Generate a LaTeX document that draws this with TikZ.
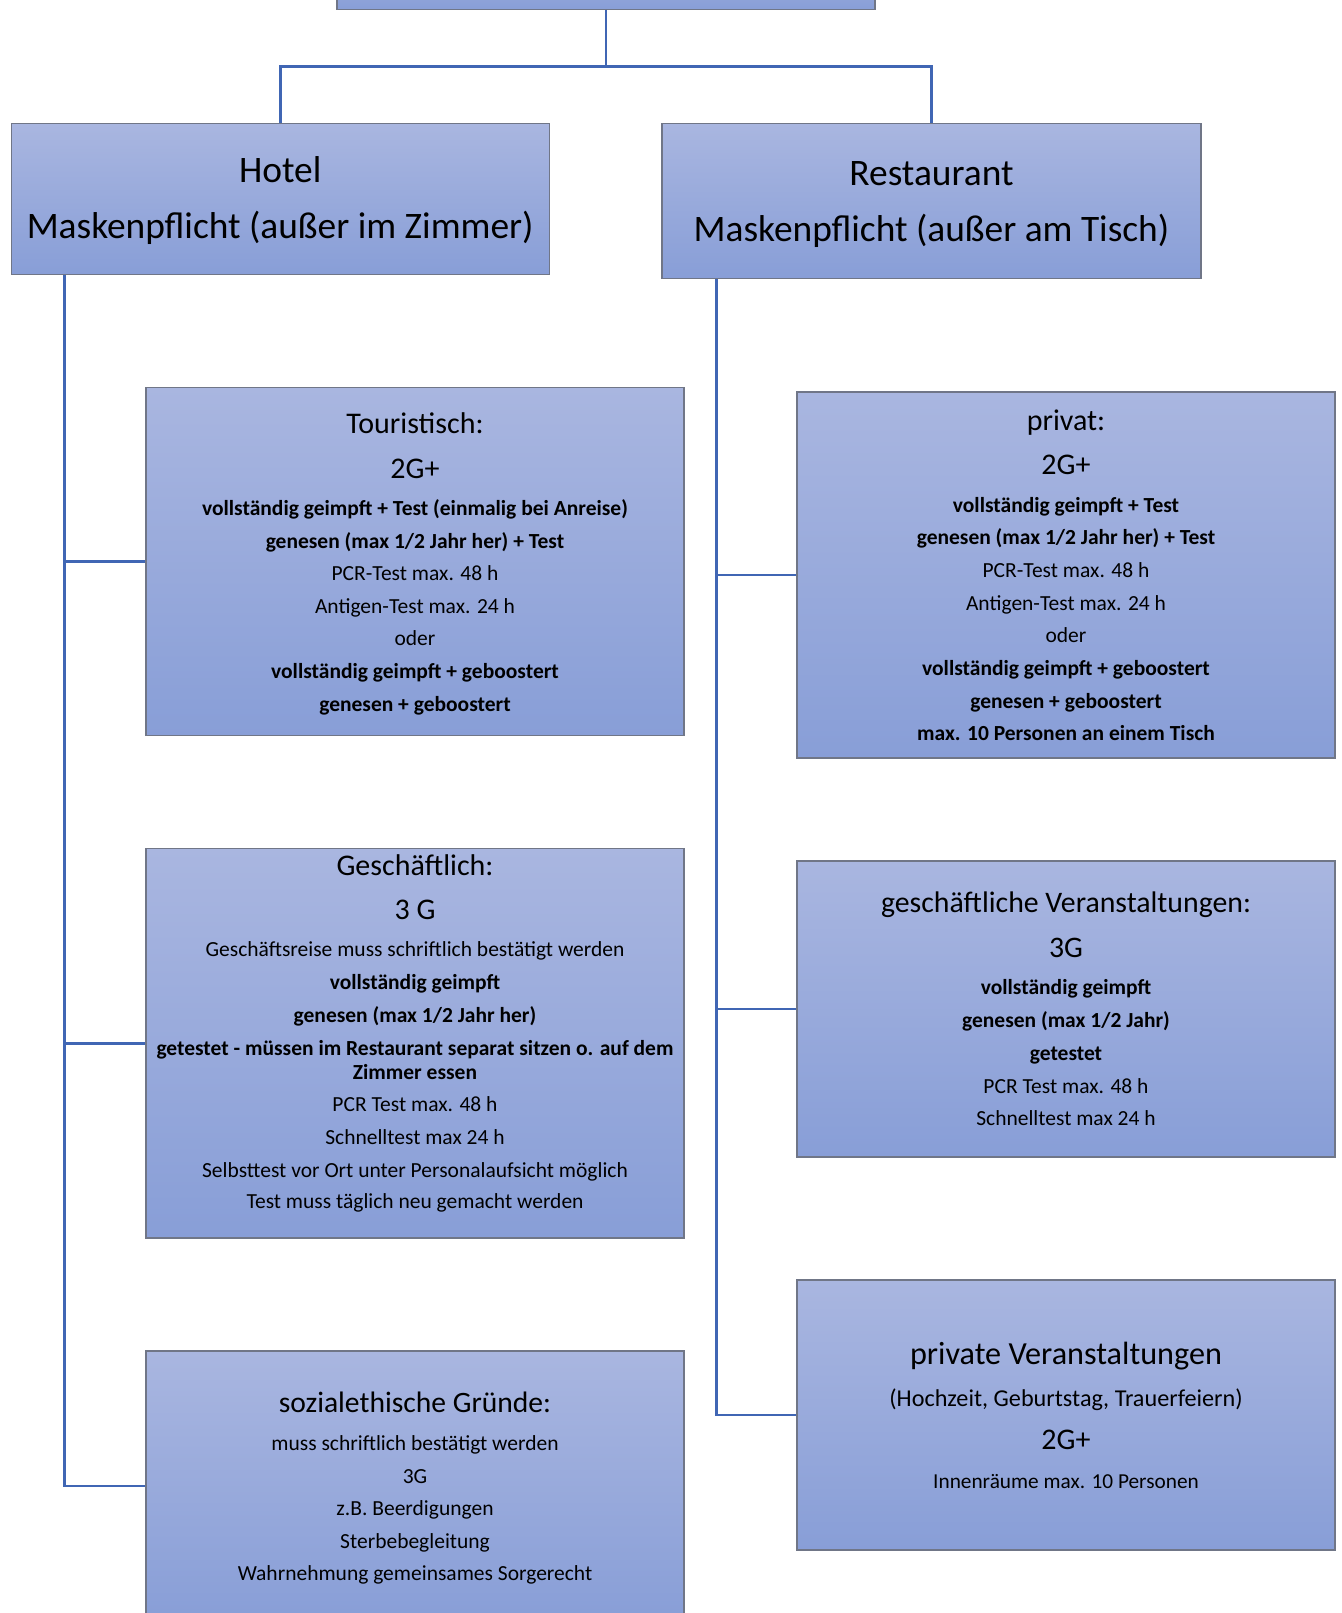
\documentclass[tikz,border=0pt]{standalone}
\usepackage{fontspec}
\setmainfont{Carlito}
\usetikzlibrary{calc}
\definecolor{boxtop}{RGB}{169,182,224}
\definecolor{boxbot}{RGB}{136,158,215}
\definecolor{boxedge}{RGB}{112,118,135}
\definecolor{linkcol}{RGB}{64,102,180}
\tikzset{
  boxshape/.style={rectangle, draw=boxedge, line width=1.4pt, top color=boxtop, bottom color=boxbot, inner sep=0pt},
  linkline/.style={draw=linkcol, line width=2.8pt},
  linetxt/.style={anchor=base, inner sep=0pt, text=black}
}
% name, x, y(center), size, text
\newcommand\mkline[5]{\node[linetxt, font=\fontsize{#4}{#4}\selectfont] (#1) at (#2,{#3+0.36*#4}) {#5};}
\begin{document}
\begin{tikzpicture}[x=1pt,y=-1pt]
\useasboundingbox (0,0) rectangle (1341,1613);
% boxes
\node[boxshape, minimum width=538pt, minimum height=60pt] (top) at (606,-20.7) {};
\node[boxshape, minimum width=538pt, minimum height=151pt] (hotel) at (280.2,199) {};
\node[boxshape, minimum width=539pt, minimum height=155pt] (rest) at (931.5,201) {};
\node[boxshape, minimum width=538pt, minimum height=347.6pt] (tour) at (415,561.5) {};
\node[boxshape, minimum width=538pt, minimum height=389.6pt] (gesch) at (415,1043.2) {};
\node[boxshape, minimum width=538pt, minimum height=270pt] (soz) at (415,1486) {};
\node[boxshape, minimum width=538pt, minimum height=366.2pt] (priv) at (1066,574.9) {};
\node[boxshape, minimum width=538pt, minimum height=296.2pt] (gver) at (1066,1008.9) {};
\node[boxshape, minimum width=538pt, minimum height=270pt] (pver) at (1066,1415) {};
\coordinate (htrunk) at (64.8,0);
\coordinate (rtrunk) at (716.8,0);
% connectors
\draw[linkline] (top.south) -- ++(0,56.7) -| (hotel.north);
\draw[linkline] (top.south) -- ++(0,56.7) -| (rest.north);
\draw[linkline] (hotel.south -| htrunk) |- (tour.west);
\draw[linkline] (hotel.south -| htrunk) |- (gesch.west);
\draw[linkline] (hotel.south -| htrunk) |- (soz.west);
\draw[linkline] (rest.south -| rtrunk) |- (priv.west);
\draw[linkline] (rest.south -| rtrunk) |- (gver.west);
\draw[linkline] (rest.south -| rtrunk) |- (pver.west);
% Hotel / Restaurant
\mkline{h1}{280.2}{168.7}{37.4}{Hotel}
\mkline{h2}{280.2}{225.2}{37.4}{Maskenpflicht (außer im Zimmer)}
\mkline{r1}{931.5}{171.7}{37.4}{Restaurant}
\mkline{r2}{931.5}{228.3}{37.4}{Maskenpflicht (außer am Tisch)}
% Touristisch
\mkline{ta}{415}{422.7}{30}{Touristisch:}
\mkline{tb}{415}{467.9}{30}{2G+}
\mkline{tc}{415}{508}{21.5}{\bfseries vollständig geimpft + Test (einmalig bei Anreise)}
\mkline{td}{415}{541}{21.5}{\bfseries genesen (max 1/2 Jahr her) + Test}
\mkline{te}{415}{572.8}{21.5}{PCR-Test max. 48 h}
\mkline{tf}{415}{605.7}{21.5}{Antigen-Test max. 24 h}
\mkline{tg}{415}{637.6}{21.5}{oder}
\mkline{th}{415}{670.5}{21.5}{\bfseries vollständig geimpft + geboostert}
\mkline{ti}{415}{703.4}{21.5}{\bfseries genesen + geboostert}
% Geschaeftlich
\mkline{ga}{415}{864.9}{30}{Geschäftlich:}
\mkline{gb}{415}{909.1}{30}{3 G}
\mkline{gc}{415}{949.2}{21.5}{Geschäftsreise muss schriftlich bestätigt werden}
\mkline{gd}{415}{982.1}{21.5}{\bfseries vollständig geimpft}
\mkline{ge}{415}{1015}{21.5}{\bfseries genesen (max 1/2 Jahr her)}
\mkline{gf}{415}{1047.9}{21.5}{\bfseries getestet - müssen im Restaurant separat sitzen o. auf dem}
\mkline{gg}{415}{1071.6}{21.5}{\bfseries Zimmer essen}
\mkline{gh}{415}{1103.5}{21.5}{PCR Test max. 48 h}
\mkline{gi}{415}{1136.4}{21.5}{Schnelltest max 24 h}
\mkline{gj}{415}{1169.3}{21.5}{Selbsttest vor Ort unter Personalaufsicht möglich}
\mkline{gk}{415}{1201.1}{21.5}{Test muss täglich neu gemacht werden}
% sozialethische
\mkline{sa}{415}{1401.7}{29.6}{sozialethische Gründe:}
\mkline{sb}{415}{1442.8}{21.5}{muss schriftlich bestätigt werden}
\mkline{sc}{415}{1475.7}{21.5}{3G}
\mkline{sd}{415}{1507.6}{21.5}{z.B. Beerdigungen}
\mkline{se}{415}{1540.5}{21.5}{Sterbebegleitung}
\mkline{sf}{415}{1572.4}{21.5}{Wahrnehmung gemeinsames Sorgerecht}
% privat
\mkline{pa}{1066}{419.6}{30}{privat:}
\mkline{pb}{1066}{463.8}{30}{2G+}
\mkline{pc}{1066}{504.9}{21.5}{\bfseries vollständig geimpft + Test}
\mkline{pd}{1066}{536.8}{21.5}{\bfseries genesen (max 1/2 Jahr her) + Test}
\mkline{pe}{1066}{569.7}{21.5}{PCR-Test max. 48 h}
\mkline{pf}{1066}{602.6}{21.5}{Antigen-Test max. 24 h}
\mkline{pg}{1066}{634.5}{21.5}{oder}
\mkline{ph}{1066}{667.4}{21.5}{\bfseries vollständig geimpft + geboostert}
\mkline{pi}{1066}{700.3}{21.5}{\bfseries genesen + geboostert}
\mkline{pj}{1066}{733.2}{21.5}{\bfseries max. 10 Personen an einem Tisch}
% geschaeftliche Veranstaltungen
\mkline{va}{1066}{901.9}{29.8}{geschäftliche Veranstaltungen:}
\mkline{vb}{1066}{947.1}{29.8}{3G}
\mkline{vc}{1066}{987.2}{21.5}{\bfseries vollständig geimpft}
\mkline{vd}{1066}{1020.2}{21.5}{\bfseries genesen (max 1/2 Jahr)}
\mkline{ve}{1066}{1053.1}{21.5}{\bfseries getestet}
\mkline{vf}{1066}{1086}{21.5}{PCR Test max. 48 h}
\mkline{vg}{1066}{1117.9}{21.5}{Schnelltest max 24 h}
% private Veranstaltungen
\mkline{wa}{1066}{1353.3}{32.2}{private Veranstaltungen}
\mkline{wb}{1066}{1397.5}{24.2}{(Hochzeit, Geburtstag, Trauerfeiern)}
\mkline{wc}{1066}{1438.7}{30}{2G+}
\mkline{wd}{1066}{1480.9}{21.3}{Innenräume max. 10 Personen}
\end{tikzpicture}
\end{document}
